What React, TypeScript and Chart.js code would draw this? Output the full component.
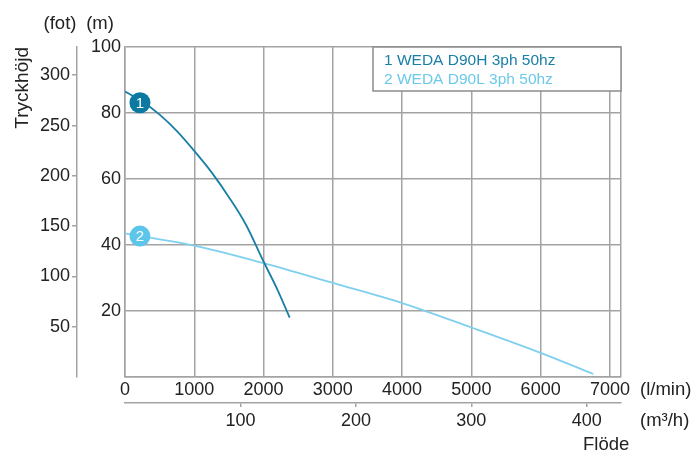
import React, { useEffect, useRef } from 'react';
import { Chart, registerables } from 'chart.js';

Chart.register(...registerables);

// ---- data ----
const flowLmin1 = [0, 250, 500, 750, 1000, 1250, 1500, 1750, 2000, 2200, 2377];
const head1 = [86.5, 83.5, 79.5, 74.5, 68.5, 62, 54.5, 46, 35, 26.5, 18];
const flowLmin2 = [0, 1000, 2000, 3000, 4000, 5000, 6000, 6760];
const head2 = [43.5, 39.8, 34.5, 28.5, 22.4, 15.0, 7.3, 0.9];
const seriesLabels = ['1 WEDA D90H 3ph 50hz', '2 WEDA D90L 3ph 50hz'];
const markerNumbers = ['1', '2'];
const markerFlow = [216, 216];
const markerHead = [83.1, 42.7];

const flowTicksLmin = [0, 1000, 2000, 3000, 4000, 5000, 6000, 7000];
const flowMaxLmin = 7160;
const flowTicksM3h = [100, 200, 300, 400];
const headTicksM = [0, 20, 40, 60, 80, 100];
const headMaxM = 100;
const headTicksFt = [50, 100, 150, 200, 250, 300];

const M_PER_FT = 0.3048;
const LMIN_PER_M3H = 1000 / 60;

const COLOR1 = '#1a7fa6';
const COLOR2 = '#7fd0ee';
const MARK1 = '#0c79a0';
const MARK2 = '#5ec5ea';
const GRID = '#a3a3a3';
const TEXT = '#222222';
const FONT = "'Liberation Sans', Arial, sans-serif";
const TICK_SIZE = 18;

const overlay = {
  id: 'overlay',
  afterDraw(chart: any) {
    const ctx = chart.ctx;
    const area = chart.chartArea;
    ctx.save();
    // legend box
    const lx = 373;
    const ly = area.top;
    const lw = area.right - lx;
    const lh = 44;
    ctx.fillStyle = '#ffffff';
    ctx.fillRect(lx, ly, lw, lh);
    ctx.strokeStyle = '#8c8c8c';
    ctx.lineWidth = 1.5;
    ctx.strokeRect(lx, ly, lw, lh);
    ctx.font = `15.5px ${FONT}`;
    ctx.textAlign = 'left';
    ctx.textBaseline = 'middle';
    ctx.fillStyle = COLOR1;
    ctx.fillText(seriesLabels[0], 384, ly + 14);
    ctx.fillStyle = '#6cc9ea';
    ctx.fillText(seriesLabels[1], 384, ly + 33);

    // marker numbers
    ctx.font = `15px ${FONT}`;
    ctx.textAlign = 'center';
    ctx.textBaseline = 'middle';
    ctx.fillStyle = '#ffffff';
    for (let i = 0; i < markerNumbers.length; i++) {
      const meta = chart.getDatasetMeta(i);
      const p = meta.data[0];
      if (p) ctx.fillText(markerNumbers[i], p.x, p.y + 1);
    }

    // unit labels
    ctx.fillStyle = TEXT;
    ctx.font = `18.5px ${FONT}`;
    ctx.textAlign = 'center';
    ctx.fillText('(fot)', 60, 24);
    ctx.fillText('(m)', 100, 24);
    ctx.textAlign = 'left';
    ctx.fillText('(l/min)', 640, 390);
    ctx.fillText('(m³/h)', 640, 421);
    ctx.fillText('Flöde', 583, 445);
    ctx.restore();
  },
};

export default function App() {
  const ref = useRef<HTMLCanvasElement | null>(null);

  useEffect(() => {
    if (!ref.current) return;
    const chart = new Chart(ref.current, {
      type: 'scatter',
      data: {
        datasets: [
          {
            label: 'm1',
            data: [{ x: markerFlow[0], y: markerHead[0] }],
            pointRadius: 10.5,
            pointBackgroundColor: MARK1,
            pointBorderWidth: 0,
            showLine: false,
            xAxisID: 'x',
            yAxisID: 'y',
          },
          {
            label: 'm2',
            data: [{ x: markerFlow[1], y: markerHead[1] }],
            pointRadius: 10.5,
            pointBackgroundColor: MARK2,
            pointBorderWidth: 0,
            showLine: false,
            xAxisID: 'x',
            yAxisID: 'y',
          },
          {
            label: seriesLabels[0],
            data: flowLmin1.map((x, i) => ({ x, y: head1[i] })),
            showLine: true,
            borderColor: COLOR1,
            borderWidth: 1.8,
            pointRadius: 0,
            cubicInterpolationMode: 'monotone',
            xAxisID: 'x',
            yAxisID: 'y',
          },
          {
            label: seriesLabels[1],
            data: flowLmin2.map((x, i) => ({ x, y: head2[i] })),
            showLine: true,
            borderColor: COLOR2,
            borderWidth: 1.8,
            pointRadius: 0,
            cubicInterpolationMode: 'monotone',
            xAxisID: 'x',
            yAxisID: 'y',
          },
        ],
      },
      options: {
        animation: false,
        responsive: true,
        maintainAspectRatio: false,
        layout: { padding: { left: 0, top: 47, right: 77, bottom: 0 } },
        plugins: { legend: { display: false }, tooltip: { enabled: false } },
        events: [],
        scales: {
          x: {
            type: 'linear',
            position: 'bottom',
            weight: 0,
            min: 0,
            max: flowMaxLmin,
            afterBuildTicks: (s: any) => {
              s.ticks = [...flowTicksLmin, flowMaxLmin].map((value) => ({ value }));
            },
            afterFit: (s: any) => { s.height = 26; },
            grid: { color: GRID, lineWidth: 1.5, drawTicks: false },
            border: { color: GRID, width: 1.5 },
            ticks: {
              padding: 2,
              color: TEXT,
              font: { family: FONT, size: TICK_SIZE },
              maxRotation: 0,
              autoSkip: false,
              callback: (v: any) => (flowTicksLmin.includes(v) ? String(v) : ''),
            },
          },
          x2: {
            type: 'linear',
            position: 'bottom',
            weight: 1,
            min: 0,
            max: flowMaxLmin / LMIN_PER_M3H,
            afterBuildTicks: (s: any) => {
              s.ticks = flowTicksM3h.map((value) => ({ value }));
            },
            afterFit: (s: any) => { s.height = 49; },
            grid: { drawOnChartArea: false, drawTicks: true, tickLength: 4, color: GRID, lineWidth: 1.5 },
            border: { color: GRID, width: 1.5 },
            ticks: {
              padding: 3,
              color: TEXT,
              font: { family: FONT, size: TICK_SIZE },
              maxRotation: 0,
              autoSkip: false,
              callback: (v: any) => String(v),
            },
          },
          y: {
            type: 'linear',
            position: 'left',
            weight: 0,
            min: 0,
            max: headMaxM,
            afterBuildTicks: (s: any) => {
              s.ticks = headTicksM.map((value) => ({ value }));
            },
            afterFit: (s: any) => { s.width = 48; },
            grid: { color: GRID, lineWidth: 1.5, drawTicks: false },
            border: { color: GRID, width: 1.5 },
            ticks: {
              padding: 4,
              color: TEXT,
              font: { family: FONT, size: TICK_SIZE },
              autoSkip: false,
              callback: (v: any) => (v === 0 ? '' : String(v)),
            },
          },
          y2: {
            type: 'linear',
            position: 'left',
            weight: 1,
            min: 0,
            max: headMaxM / M_PER_FT,
            afterBuildTicks: (s: any) => {
              s.ticks = headTicksFt.map((value) => ({ value }));
            },
            afterFit: (s: any) => { s.width = 77; },
            grid: { drawOnChartArea: false, drawTicks: true, tickLength: 5, color: GRID, lineWidth: 1.5 },
            border: { color: GRID, width: 1.5 },
            title: {
              display: true,
              text: 'Tryckhöjd',
              align: 'end',
              color: TEXT,
              font: { family: FONT, size: 19 },
              padding: { top: 11, bottom: 0 },
            },
            ticks: {
              padding: 2,
              color: TEXT,
              font: { family: FONT, size: TICK_SIZE },
              autoSkip: false,
              callback: (v: any) => String(v),
            },
          },
        },
      },
      plugins: [overlay],
    } as any);
    return () => chart.destroy();
  }, []);

  return (
    <div style={{ position: 'absolute', left: 0, top: 0, width: 698, height: 452 }}>
      <canvas ref={ref} />
    </div>
  );
}
